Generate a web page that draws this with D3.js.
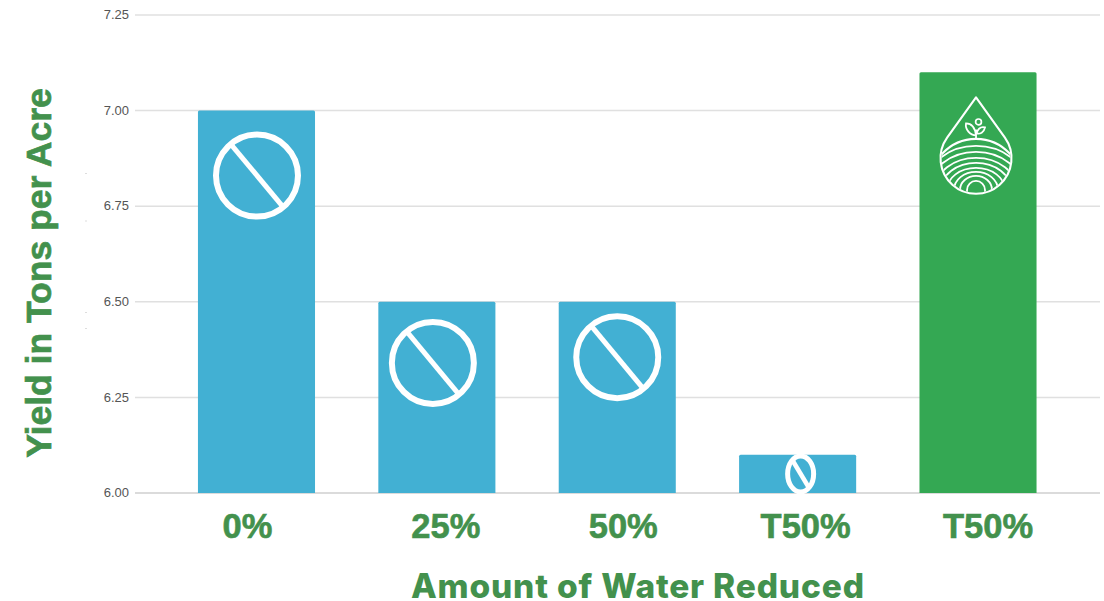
<!DOCTYPE html>
<html>
<head>
<meta charset="utf-8">
<script src="https://cdn.jsdelivr.net/npm/d3@7"></script>
<style>
  html, body { margin: 0; padding: 0; background: #fff; }
  svg { display: block; }
</style>
</head>
<body>
<svg id="chart" width="1104" height="601"></svg>
<script>
// Yield by irrigation treatment
const categories = ["0%", "25%", "50%", "T50%", "T50%"];
const yields = [7.0, 6.5, 6.5, 6.1, 7.1];
const barColors = ["#42b0d3", "#42b0d3", "#42b0d3", "#42b0d3", "#34a853"];
const yTicks = [6.0, 6.25, 6.5, 6.75, 7.0, 7.25];
const yTitle = "Yield in Tons per Acre";
const xTitle = "Amount of Water Reduced";

// Labels sit slightly off their bar centres
const labelNudge = [-9, 9, 6, 8, 10];

// "Not achieved" symbols: bar index, value at the symbol centre, x offset, radii
const noSymbols = [
  { bar: 0, value: 6.83, dx: 0.5, rx: 41, ry: 41 },
  { bar: 1, value: 6.34, dx: -4, rx: 41, ry: 41 },
  { bar: 2, value: 6.355, dx: 0, rx: 41, ry: 41 },
  { bar: 3, value: 6.05, dx: 3, rx: 13, ry: 18 }
];

// Small stray specks left of the axis
const specks = [[85.5, 173], [85.5, 220.5], [85.5, 312], [85.5, 328]];

const green = "#43914d";
const sansFont = "'Liberation Sans', Arial, sans-serif";
const svg = d3.select("#chart");

const x = d3.scaleBand()
  .domain(d3.range(categories.length))
  .range([166.3, 1068.2])
  .paddingInner(0.351)
  .paddingOuter(0.1755);

const y = d3.scaleLinear().domain([6, 7.25]).range([493, 15]);

// Horizontal grid
svg.append("g")
  .selectAll("line")
  .data(yTicks)
  .join("line")
  .attr("x1", 135)
  .attr("x2", 1100)
  .attr("y1", d => y(d))
  .attr("y2", d => y(d))
  .attr("stroke", d => d === 6 ? "#cfcfcf" : "#e0e0e0")
  .attr("stroke-width", 1.5);

// Tick labels
svg.append("g")
  .selectAll("text")
  .data(yTicks)
  .join("text")
  .attr("x", 129)
  .attr("y", d => y(d))
  .attr("dy", "0.32em")
  .attr("text-anchor", "end")
  .attr("font-family", sansFont)
  .attr("font-size", 13)
  .attr("fill", "#555")
  .text(d => d3.format(".2f")(d));

// Bars
svg.append("g")
  .selectAll("path")
  .data(yields)
  .join("path")
  .attr("fill", (d, i) => barColors[i])
  .attr("d", (d, i) => {
    const x0 = x(i), w = x.bandwidth(), t = y(d), b = y(6), r = 1.5;
    return `M${x0},${b}V${t + r}Q${x0},${t} ${x0 + r},${t}H${x0 + w - r}Q${x0 + w},${t} ${x0 + w},${t + r}V${b}Z`;
  });

// Prohibition symbols on the blue bars
const sym = svg.append("g")
  .selectAll("g")
  .data(noSymbols)
  .join("g")
  .attr("transform", d => `translate(${x(d.bar) + x.bandwidth() / 2 + d.dx},${y(d.value)})`);

sym.append("ellipse")
  .attr("rx", d => d.rx)
  .attr("ry", d => d.ry)
  .attr("fill", "none")
  .attr("stroke", "#fff")
  .attr("stroke-width", d => d.rx < 20 ? 5 : 6);

sym.append("line")
  .attr("x1", d => -d.rx * 0.64)
  .attr("y1", d => -d.ry * 0.77)
  .attr("x2", d => d.rx * 0.64)
  .attr("y2", d => d.ry * 0.77)
  .attr("stroke", "#fff")
  .attr("stroke-width", d => d.rx < 20 ? 4.5 : 5);

// Water-drop emblem on the green bar
const dropCx = x(4) + x.bandwidth() / 2 - 2;
const drop = svg.append("g").attr("transform", `translate(${dropCx},${y(6.875)})`);

svg.append("defs").append("clipPath").attr("id", "soil")
  .append("circle").attr("r", 34.5);

drop.append("path")
  .attr("d", "M0,-61 L-28.9,-20.7 A35.5,35.5 0 1 0 28.9,-20.7 Z")
  .attr("fill", "none")
  .attr("stroke", "#fff")
  .attr("stroke-width", 2.1)
  .attr("stroke-linejoin", "round");

// Furrows: [rise, half width] of each arch above the base of the drop
const furrowArches = [[51, 48], [44, 52], [38, 47], [32, 41], [27, 35], [22, 29], [18, 22], [14, 16], [9, 9]];
const archBase = 31.5;
drop.append("g")
  .attr("clip-path", "url(#soil)")
  .selectAll("path")
  .data(furrowArches)
  .join("path")
  .attr("d", ([ry, rx]) => `M${-rx},${archBase + 12}V${archBase}A${rx},${ry} 0 0 1 ${rx},${archBase}V${archBase + 12}`)
  .attr("fill", "none")
  .attr("stroke", "#fff")
  .attr("stroke-width", (d, i) => i === 0 ? 2.1 : 1.8);

// Sprout above the horizon
drop.append("path")
  .attr("d", "M0,-18.5 V-29 M0,-23 C-1,-31 -5,-35 -10,-35 C-11,-29 -6,-23 0,-23 Z M0.5,-25 C2,-30 5,-32 9,-31 C8,-26 4,-24 0.5,-25 Z")
  .attr("fill", "none")
  .attr("stroke", "#fff")
  .attr("stroke-width", 1.8);
drop.append("circle")
  .attr("cx", 2.5)
  .attr("cy", -36.5)
  .attr("r", 2.9)
  .attr("fill", "none")
  .attr("stroke", "#fff")
  .attr("stroke-width", 1.7);

// Category labels
svg.append("g")
  .selectAll("text")
  .data(categories)
  .join("text")
  .attr("x", (d, i) => x(i) + x.bandwidth() / 2 + labelNudge[i])
  .attr("y", 538)
  .attr("text-anchor", "middle")
  .attr("font-family", sansFont)
  .attr("font-weight", 700)
  .attr("font-size", 34.5)
  .attr("stroke", green)
  .attr("stroke-width", 0.6)
  .attr("fill", green)
  .text(d => d);

// Axis titles
svg.append("text")
  .attr("x", 411)
  .attr("y", 597.5)
  .attr("textLength", 453)
  .attr("lengthAdjust", "spacing")
  .attr("font-family", "Inter, 'Liberation Sans', Arial, sans-serif")
  .attr("font-weight", 800)
  .attr("font-size", 33.5)
  .attr("fill", green)
  .text(xTitle);

svg.append("text")
  .attr("transform", "translate(51,273) rotate(-90)")
  .attr("text-anchor", "middle")
  .attr("font-family", sansFont)
  .attr("font-weight", 700)
  .attr("font-size", 35.5)
  .attr("stroke", green)
  .attr("stroke-width", 0.7)
  .attr("fill", green)
  .text(yTitle);

svg.append("g")
  .selectAll("rect")
  .data(specks)
  .join("rect")
  .attr("x", d => d[0])
  .attr("y", d => d[1])
  .attr("width", 1)
  .attr("height", 1)
  .attr("fill", "#bbb");
</script>
</body>
</html>
